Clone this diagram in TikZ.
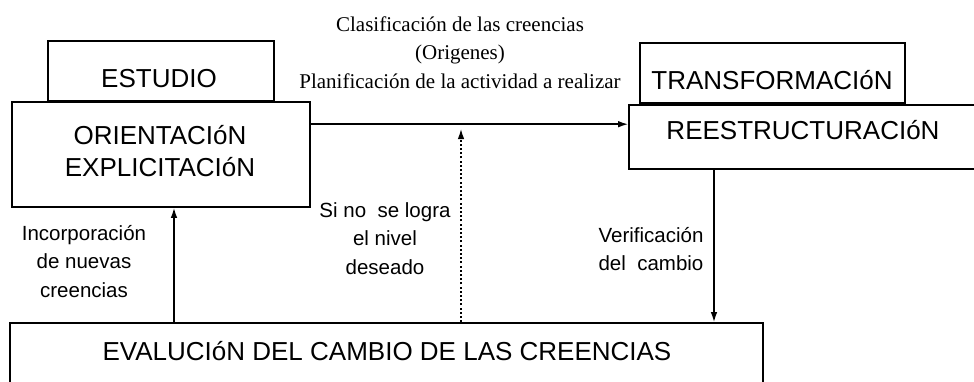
\documentclass[tikz,border=0pt]{standalone}
\usepackage{fontspec}
\setmainfont{Liberation Serif}
\newfontfamily\sansf{Liberation Sans}
\usetikzlibrary{arrows.meta}
\tikzset{
  box/.style={draw, line width=1.6pt, fill=white, inner sep=0pt},
  bigtxt/.style={font=\sansf\fontsize{26}{32}\selectfont, inner sep=0pt, align=center},
  smalltxt/.style={font=\sansf\fontsize{20.5}{28.5}\selectfont, inner sep=0pt, align=center},
  seriftxt/.style={font=\fontsize{21}{28.5}\selectfont, inner sep=0pt, align=center},
  arr/.style={line width=1.5pt, -{Latex[length=10pt,width=6.5pt]}},
  dotarr/.style={line width=1.3pt, dash pattern=on 2pt off 2.2pt, -{Latex[length=10pt,width=6.5pt]}}
}
\begin{document}
\begin{tikzpicture}[x=1pt,y=-1pt]
\useasboundingbox (0,0) rectangle (974,381);
\clip (0,0) rectangle (974,381);
% boxes
\node[box, minimum width=226pt, minimum height=60pt] (estudio) at (161,71) {};
\node[box, minimum width=265pt, minimum height=60pt] (transf) at (772.5,73) {};
\node[box, minimum width=298pt, minimum height=105pt] (orient) at (161,154.5) {};
\node[box, minimum width=361pt, minimum height=64pt] (reestr) at (809.5,137) {};
\node[box, minimum width=753pt, minimum height=80pt] (evalu) at (386.5,363) {};
% texts
\node[bigtxt] (estudioT) at (159,79) {ESTUDIO};
\node[bigtxt] (orientT) at (160,151.5) {ORIENTACIóN\\EXPLICITACIóN};
\node[bigtxt] (transfT) at (772,80) {TRANSFORMACIóN};
\node[bigtxt] (reestrT) at (803,130) {REESTRUCTURACIóN};
\node[bigtxt] (evaluT) at (387,351) {EVALUCIóN DEL CAMBIO DE LAS CREENCIAS};
\node[seriftxt] (clasif) at (460,52.5) {Clasificación de las creencias\\(Origenes)\\Planificación de la actividad a realizar};
\node[smalltxt] (incorp) at (84,261.5) {Incorporación\\de nuevas\\creencias};
\node[smalltxt] (sino) at (385,238.5) {Si no\ \ se logra\\el nivel\\deseado};
\node[smalltxt] (verif) at (651,249) {Verificación\\del\ \ cambio};
% connectors
\coordinate (aStart) at ([yshift=-23pt]orient.north east);
\draw[arr] (aStart) -- (aStart -| reestr.west);
\coordinate (upX) at (174,0);
\draw[arr] (evalu.north -| upX) -- (orient.south -| upX);
\coordinate (dotEnd) at (461,129);
\draw[dotarr] (evalu.north -| dotEnd) -- (dotEnd);
\coordinate (downX) at (714,0);
\draw[arr] (reestr.south -| downX) -- (evalu.north -| downX);
\end{tikzpicture}
\end{document}
